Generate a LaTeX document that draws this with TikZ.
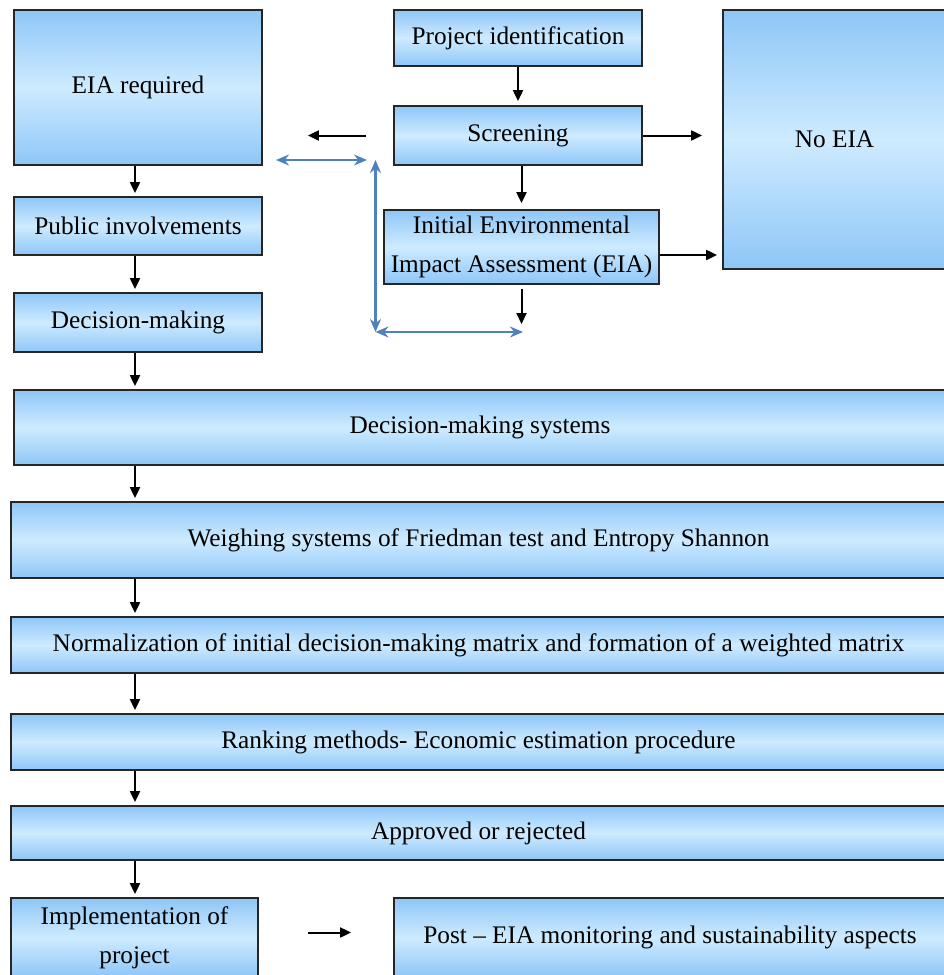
\documentclass[tikz,border=0pt]{standalone}
\usepackage{fontspec}
\setmainfont{Liberation Serif}
\usepackage{xcolor}
\usepackage{tikz}
\usetikzlibrary{arrows.meta}
\definecolor{boxblue}{RGB}{142,198,247}
\definecolor{boxlight}{RGB}{206,235,255}
\definecolor{linkblue}{RGB}{79,129,189}
\tikzset{stage/.style={draw=black!85,line width=1.8pt,inner sep=0pt,align=center,
    top color=boxblue,bottom color=boxblue,middle color=boxlight,
    font=\fontsize{25.3}{39}\selectfont},
  flow/.style={line width=2pt,-{Triangle[length=11pt,width=10pt]}},
  link/.style={linkblue,line width=2.4pt,{Stealth[length=13pt,width=11pt]}-{Stealth[length=13pt,width=11pt]}}}

\begin{document}
\begin{tikzpicture}[x=1pt,y=-1pt]
\useasboundingbox (0,0) rectangle (944,975);
% top part
\node[stage,minimum width=248pt,minimum height=155pt] (eia) at (138,87.5) {EIA required};
\node[stage,minimum width=248pt,minimum height=56pt] (pid) at (518,38) {Project identification};
\node[stage,minimum width=248pt,minimum height=59pt] (scr) at (518,135.5) {Screening};
\node[stage,minimum width=223pt,minimum height=259pt] (noeia) at (834.5,139.5) {No EIA};
\node[stage,minimum width=248pt,minimum height=58pt] (pub) at (138,226) {Public involvements};
\node[stage,minimum width=275pt,minimum height=74pt] (ieia) at (521.5,247)
  {Initial Environmental\\Impact Assessment (EIA)};
\node[stage,minimum width=248pt,minimum height=59pt] (dm) at (138,322.5) {Decision-making};
% wide rows
\node[stage,minimum width=932pt,minimum height=75pt] (dms) at (480,427.5) {Decision-making systems};
\node[stage,minimum width=935pt,minimum height=76pt] (wsys) at (478.5,540)
  {Weighing systems of Friedman test and Entropy Shannon};
\node[stage,minimum width=935pt,minimum height=56pt] (norm) at (478.5,645)
  {Normalization of initial decision-making matrix and formation of a weighted matrix};
\node[stage,minimum width=935pt,minimum height=56pt] (rank) at (478.5,742)
  {Ranking methods- Economic estimation procedure};
\node[stage,minimum width=935pt,minimum height=54pt] (appr) at (478.5,833) {Approved or rejected};
\node[stage,minimum width=247pt,minimum height=79pt] (impl) at (134.5,937.5) {Implementation of\\project};
\node[stage,minimum width=552pt,minimum height=79pt] (post) at (670,937.5)
  {Post -- EIA monitoring and sustainability aspects};

% black arrows
\draw[flow,shorten >=4pt] (pid) -- (scr);
\draw[flow,shorten >=6pt] (ieia.north |- scr.south) -- (ieia.north);
\draw[flow,shorten <=27pt,shorten >=45pt] (scr.west) -- (scr.west -| eia.east);
\draw[flow,shorten >=20pt] (scr.east) -- (scr.east -| noeia.west);
\draw[flow,shorten >=5pt] ([yshift=-8pt]ieia.east) -- ([yshift=-8pt]ieia.east -| noeia.west);
\coordinate (ieiaout) at (521.5,324);
\draw[flow,shorten <=4pt] (ieia.south) -- (ieiaout);
\draw[flow,shorten >=3pt] ([xshift=-3pt]eia.south) -- ([xshift=-3pt]pub.north);
\draw[flow,shorten >=3pt] ([xshift=-3pt]pub.south) -- ([xshift=-3pt]dm.north);
\draw[flow,shorten >=3pt] ([xshift=-3pt]dm.south) -- ([xshift=-3pt]dm.south |- dms.north);
\foreach \a/\b in {dms/wsys,wsys/norm,norm/rank,rank/appr,appr/impl}
  \draw[flow,shorten >=3pt] (\a.south -| dm.south) ++(-3pt,0) coordinate (s) -- (s |- \b.north);
\draw[flow,shorten <=49pt,shorten >=42pt] ([yshift=5pt]impl.east) -- ([yshift=5pt]impl.east -| post.west);

% blue links
\coordinate (la) at (276,160);
\coordinate (lb) at (367,160);
\coordinate (lc) at (375.5,160);
\coordinate (ld) at (375.5,332);
\coordinate (le) at (523,332);
\draw[link] (la) -- (lb);
\draw[link] (lc) -- (ld);
\draw[link] (ld) -- (le);
\end{tikzpicture}
\end{document}
